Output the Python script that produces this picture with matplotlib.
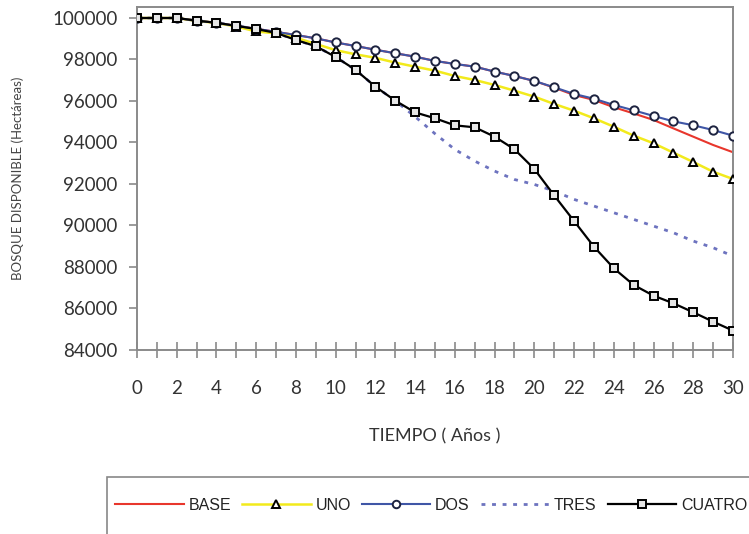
import matplotlib
matplotlib.use("Agg")
import matplotlib.pyplot as plt
from matplotlib.patches import Rectangle

years = list(range(0, 31))

base = [100000, 100000, 100000, 99870, 99770, 99620, 99480, 99330, 99180, 99020,
        98820, 98650, 98470, 98300, 98135, 97930, 97785, 97655, 97415, 97205,
        96965, 96640, 96290, 96050, 95700, 95400, 95085, 94680, 94280, 93880, 93530]
uno = [100000, 100000, 100000, 99860, 99760, 99590, 99350, 99260, 99050, 98750,
       98450, 98250, 98080, 97850, 97654, 97462, 97205, 97012, 96771, 96498,
       96209, 95856, 95533, 95166, 94762, 94330, 93962, 93509, 93060, 92590, 92241]
dos = [100000, 100000, 100000, 99870, 99770, 99620, 99480, 99330, 99180, 99020,
       98820, 98650, 98470, 98300, 98135, 97930, 97785, 97655, 97415, 97205,
       96965, 96660, 96340, 96110, 95810, 95550, 95280, 95020, 94830, 94600, 94330]
tres = [100000, 100000, 100000, 99870, 99770, 99620, 99470, 99280, 98940, 98640,
        98120, 97500, 96690, 96015, 95243, 94422, 93665, 93104, 92622, 92217,
        91978, 91660, 91259, 90937, 90615, 90294, 89972, 89651, 89250, 88928, 88528]
cuatro = [100000, 100000, 100000, 99870, 99770, 99620, 99470, 99280, 98940, 98640,
          98120, 97500, 96690, 96015, 95450, 95166, 94827, 94731, 94280, 93673,
          92723, 91448, 90215, 88979, 87938, 87133, 86618, 86251, 85817, 85365, 84934]

series_names = ["BASE", "UNO", "DOS", "TRES", "CUATRO"]
ytick_vals = list(range(84000, 100001, 2000))

plt.rcParams['font.family'] = ['Lato', 'DejaVu Sans']

fig = plt.figure(figsize=(7.49, 5.34), dpi=100)
ax = fig.add_axes([137/749, 1-350/534, (733-137)/749, (350-7)/534])

tc = '#333333'
ms = 6
h_base, = ax.plot(years, base, color='#e8362c', lw=1.5, zorder=2)
h_uno, = ax.plot(years, uno, color='#f2ea1c', lw=1.8, marker='^', markersize=ms,
                 markerfacecolor='white', markeredgecolor='black', markeredgewidth=1.4, zorder=3)
h_dos, = ax.plot(years, dos, color='#3f56a6', lw=1.5, marker='o', markersize=ms,
                 markerfacecolor='white', markeredgecolor='#1d2340', markeredgewidth=1.4, zorder=4)
h_tres, = ax.plot(years, tres, color='#6d73bf', lw=2.0, linestyle=(0, (1.4, 2.4)), zorder=2)
h_cuatro, = ax.plot(years, cuatro, color='black', lw=1.6, marker='s', markersize=ms,
                    markerfacecolor='#e6e6e6', markeredgecolor='black', markeredgewidth=1.4, zorder=5)

ax.set_xlim(0, 30)
ax.set_ylim(84000, 100530)
ax.set_yticks(ytick_vals)
ax.set_yticklabels([str(v) for v in ytick_vals])
ax.set_xticks(years)
ax.set_xticklabels([str(y) if y % 2 == 0 else '' for y in years])

for s in ax.spines.values():
    s.set_color('#8a8a8a')
    s.set_linewidth(1.4)

ax.tick_params(axis='y', direction='out', length=6, width=1.2, color='#8a8a8a',
               labelsize=13.5, labelcolor=tc, pad=8)
ax.tick_params(axis='x', direction='inout', length=11, width=1.2, color='#8a8a8a',
               labelsize=13.5, labelcolor=tc, pad=16)

ax.set_ylabel("BOSQUE DISPONIBLE (Hectáreas)", fontsize=9.5, color='#444444', labelpad=20)
ax.set_xlabel("TIEMPO ( Años )", fontsize=13, color=tc, labelpad=23)

# legend frame (extends past figure right/bottom edges)
fig.patches.append(Rectangle((107/749, -0.1), 1.0, 0.1 + (534-477)/534,
                             transform=fig.transFigure, facecolor='none',
                             edgecolor='#888888', linewidth=1.2))

leg = fig.legend([h_base, h_uno, h_dos, h_tres, h_cuatro], series_names,
                 loc='center left', bbox_to_anchor=(115/749, 1-505/534),
                 ncol=5, frameon=False, handlelength=4.3,
                 handletextpad=0.3, columnspacing=0.68, borderpad=0.0,
                 borderaxespad=0.0,
                 prop={'family': 'Liberation Sans', 'size': 11.5}, markerscale=0.9)
for t in leg.get_texts():
    t.set_color('#222222')

fig.savefig("out.png", dpi=100)
